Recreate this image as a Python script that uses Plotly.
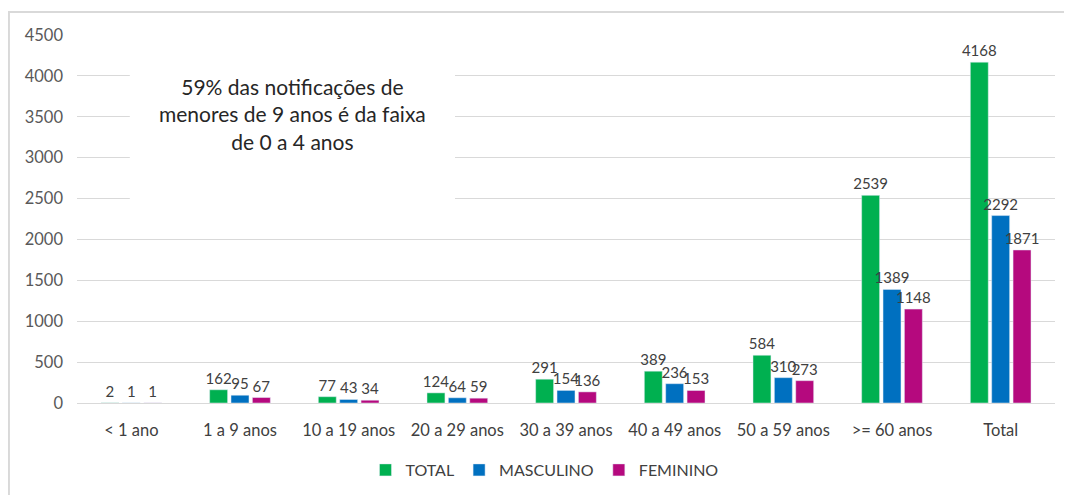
import plotly.graph_objects as go

categories = ["< 1 ano", "1 a 9 anos", "10 a 19 anos", "20 a 29 anos", "30 a 39 anos",
              "40 a 49 anos", "50 a 59 anos", ">= 60 anos", "Total"]
total = [2, 162, 77, 124, 291, 389, 584, 2539, 4168]
masculino = [1, 95, 43, 64, 154, 236, 310, 1389, 2292]
feminino = [1, 67, 34, 59, 136, 153, 273, 1148, 1871]
y_ticks = [0, 500, 1000, 1500, 2000, 2500, 3000, 3500, 4000, 4500]
note = "59% das notificações de<br>menores de 9 anos é da faixa<br>de 0 a 4 anos"

FONT = "Lato, Open Sans, sans-serif"
series = [("TOTAL", total, "#00b050"), ("MASCULINO", masculino, "#0070c0"), ("FEMININO", feminino, "#b5097e")]

fig = go.Figure()
for name, vals, col in series:
    fig.add_trace(go.Bar(
        x=categories, y=vals, name=name, marker_color=col,
        text=[str(v) for v in vals], textposition="outside",
        textfont=dict(size=15, color="#404040", family=FONT),
        constraintext="none", cliponaxis=False,
    ))

fig.update_layout(
    width=1064, height=487,
    margin=dict(l=69, r=17, t=27, b=92, autoexpand=False),
    paper_bgcolor="white", plot_bgcolor="white",
    barmode="group", bargap=0.41, bargroupgap=0.16,
    font=dict(family=FONT, color="#404040"),
    showlegend=True,
    legend=dict(orientation="h", x=0.478, xanchor="center", y=-0.182, yanchor="middle",
                font=dict(size=16, color="#404040"), itemwidth=30, traceorder="normal"),
)
fig.update_yaxes(range=[0, 4500], tickvals=y_ticks, showgrid=True, gridcolor="#d9d9d9",
                 gridwidth=1, zeroline=False, showline=False,
                 tickfont=dict(size=16.5, color="#595959"), ticks="", ticklabelstandoff=13)
fig.update_xaxes(showline=True, linecolor="#d9d9d9", linewidth=1, ticks="",
                 tickfont=dict(size=16.5, color="#404040"), ticklabelstandoff=12)

# white text box over gridlines
fig.add_shape(type="rect", xref="paper", yref="paper", x0=0.054, x1=0.3865, y0=0.511, y1=0.959,
              fillcolor="white", line=dict(width=0), layer="above")
fig.add_annotation(xref="paper", yref="paper", x=0.22, y=0.785, xanchor="center", yanchor="middle",
                   text=note, showarrow=False,
                   font=dict(size=21, color="#262626", family=FONT), align="center")
# outer chart border
fig.add_shape(type="rect", xref="paper", yref="paper", x0=-0.0696, x1=1.05, y0=-0.3, y1=1.0625,
              line=dict(color="#d9d9d9", width=2), fillcolor="rgba(0,0,0,0)", layer="below")

fig.write_html("out.html")
